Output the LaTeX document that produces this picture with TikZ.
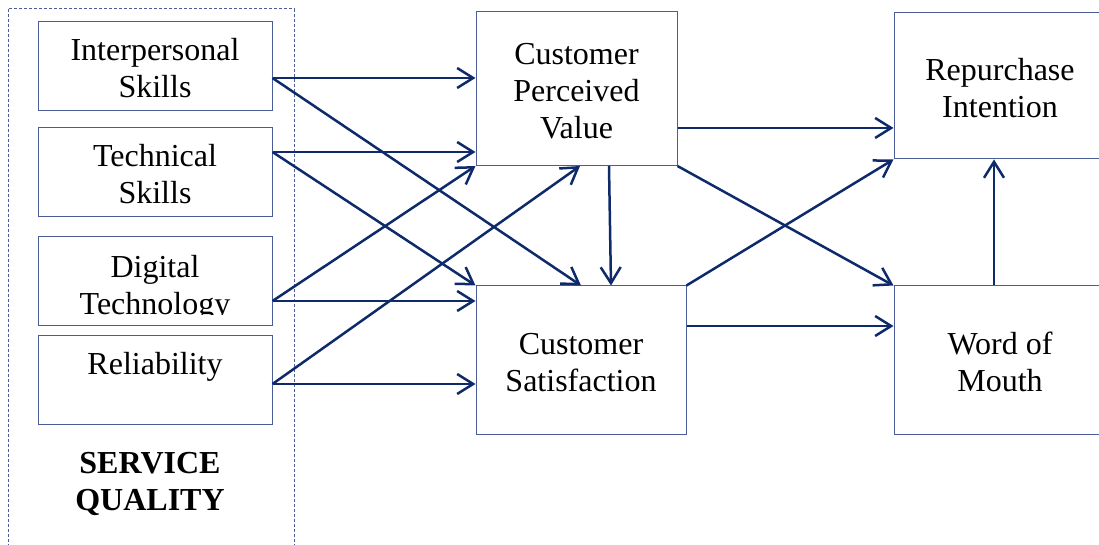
\documentclass[tikz,border=0pt]{standalone}
\usepackage{fontspec}
\setmainfont{Liberation Serif}
\usetikzlibrary{arrows.meta}
\definecolor{arrowc}{HTML}{0E2A6B}
\definecolor{boxc}{HTML}{4A5D96}
\newcommand\boxtext[1]{\raisebox{-2.8pt}[\height][\depth]{\begin{tabular}{@{}c@{}}#1\end{tabular}}}
\begin{document}
\begin{tikzpicture}[x=0.5pt,y=-0.5pt,
  box/.style={draw=boxc, line width=0.5pt, inner sep=0pt,
    font=\fontsize{16}{18.5}\selectfont},
  link/.style={draw=arrowc, line width=1.25pt, -{Straight Barb[length=8pt,width=10pt,line width=1.25pt]}},
  lbl/.style={inner sep=0pt, align=center, font=\fontsize{16}{18.5}\selectfont}]
\clip (0,0) rectangle (1099,545);
\useasboundingbox (0,0) rectangle (1099,545);
% service quality group
\draw[boxc, line width=0.5pt, dash pattern=on 1.5pt off 1pt] (8,9) rectangle (294,570);
\node[lbl, font=\fontsize{16}{18.5}\selectfont\bfseries] (sq) at (150,483.5) {SERVICE\\QUALITY};
% left boxes
\node[box, minimum width=117pt, minimum height=44.5pt] (ip) at (155,66.5) {\boxtext{Interpersonal\\Skills}};
\node[box, minimum width=117pt, minimum height=44.5pt] (ts) at (155,172.5) {\boxtext{Technical\\Skills}};
\node[box, minimum width=117pt, minimum height=44.5pt] (dt) at (155,281.5) {};
\begin{scope}
  \clip (dt.north west) rectangle ([yshift=6pt]dt.south east);
  \node[lbl] (dtt) at ([yshift=-3.5pt]dt.center) {Digital\\Technology};
\end{scope}
\node[box, minimum width=117pt, minimum height=44.5pt] (rl) at (155,380.5) {\boxtext{Reliability\\\mbox{}}};
% middle boxes
\node[box, minimum width=100.5pt, minimum height=76.75pt] (cpv) at (576.5,88.75) {\boxtext{Customer\\Perceived\\Value}};
\node[box, minimum width=105pt, minimum height=74.5pt] (cs) at (581,360.5) {\boxtext{Customer\\Satisfaction}};
% right boxes
\node[box, minimum width=106pt, minimum height=73.35pt] (ri) at (1000,85.6) {\boxtext{Repurchase\\Intention}};
\node[box, minimum width=106pt, minimum height=74.5pt] (wom) at (1000,360.5) {\boxtext{Word of\\Mouth}};
% connector start points
\coordinate (a1) at ([yshift=-5.75pt]ip.east);
\coordinate (a2) at ([yshift=10.25pt]ts.east);
\coordinate (a3) at ([yshift=-9.75pt]dt.east);
\coordinate (a4) at ([yshift=-1.75pt]rl.east);
\coordinate (b1) at ([yshift=-19.6pt]cpv.east);
\coordinate (b2) at ([yshift=17.25pt]cs.east);
% connectors
\draw[link] (a1) -- (a1 -| cpv.west);
\draw[link] (a1) -- (cs.north);
\draw[link] (a2) -- (a2 -| cpv.west);
\draw[link] (a2) -- (cs.north west);
\draw[link] (a3) -- (cpv.south west);
\draw[link] (a3) -- (a3 -| cs.west);
\draw[link] (a4) -- ([xshift=1.75pt]cpv.south);
\draw[link] (a4) -- (a4 -| cs.west);
\draw[link] ([xshift=16.25pt]cpv.south) -- ([xshift=15pt]cs.north);
\draw[link] (b1) -- (b1 -| ri.west);
\draw[link] (cpv.south east) -- (wom.north west);
\draw[link] (cs.north east) -- (ri.south west);
\draw[link] (b2) -- (b2 -| wom.west);
\draw[link] ([xshift=-3pt]wom.north) -- ([xshift=-3pt]ri.south);
\end{tikzpicture}
\end{document}
